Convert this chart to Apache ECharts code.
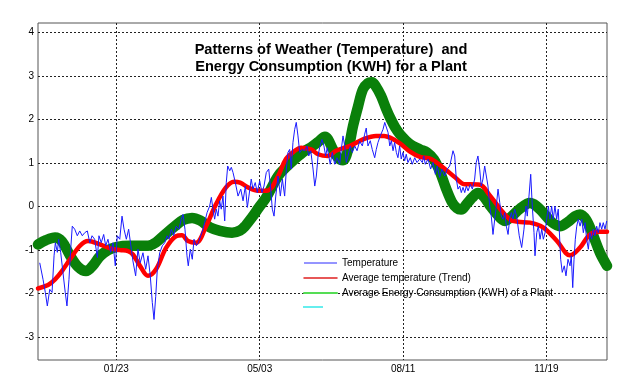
<!DOCTYPE html>
<html>
<head>
<meta charset="utf-8">
<script src="https://cdn.jsdelivr.net/npm/echarts@6/dist/echarts.min.js"></script>
<style>
html,body{margin:0;padding:0;background:#fff;}
#chart{width:625px;height:388px;}
</style>
</head>
<body>
<div id="chart"></div>
<script>
// ---- tick labels ----
var xTickDays = [23, 123, 223, 323];
var xTickLabels = ['01/23', '05/03', '08/11', '11/19'];
var yTicks = [-3, -2, -1, 0, 1, 2, 3, 4];

// ---- series names ----
var seriesNames = ['Temperature', 'Average temperature (Trend)', 'Average Energy Consumption (KWH) of a Plant', ' '];

// ---- Temperature (daily, noisy) [day of year, value] ----
var temperature = [
[-30.4,-1.29],[-28.1,-1.67],[-26.5,-1.97],[-25.1,-2.28],[-23.4,-1.9],[-21.8,-1.97],[-20.4,-1.13],[-19.5,-0.83],[-18.1,-1.05],[-17.2,-0.75],
[-15.8,-1.05],[-14.2,-1.51],[-12.6,-1.97],[-11.4,-2.28],[-10.0,-1.67],[-8.8,-0.98],[-7.7,-0.45],[-6.0,-0.52],[-4.2,-0.67],[-2.5,-0.56],
[-0.7,-0.67],[1.0,-0.6],[2.8,-0.56],[4.5,-0.83],[6.1,-0.67],[7.9,-0.75],[9.8,-1.17],[10.9,-0.67],[12.5,-0.83],[14.2,-0.64],
[15.6,-0.9],[17.2,-0.75],[19.1,-1.05],[20.7,-0.83],[22.3,-1.36],[23.7,-0.67],[25.4,-0.75],[27.0,-0.22],[28.4,-0.52],[30.0,-0.75],
[31.6,-0.52],[33.5,-0.98],[34.6,-1.25],[36.5,-1.59],[38.1,-0.98],[39.7,-1.29],[41.6,-1.06],[43.5,-1.44],[45.1,-1.13],[46.7,-1.59],
[48.1,-2.2],[49.3,-2.59],[50.5,-2.06],[51.6,-1.44],[53.3,-1.06],[55.1,-0.9],[56.8,-0.83],[58.4,-0.67],[59.8,-0.75],[61.4,-0.52],
[63.0,-0.67],[64.8,-0.45],[66.7,-0.52],[68.3,-0.29],[69.5,-0.18],[70.9,-0.52],[72.3,-1.13],[73.2,-1.36],[74.6,-0.98],[76.0,-1.21],
[77.2,-0.75],[78.8,-0.9],[80.2,-0.83],[81.9,-0.67],[83.5,-0.52],[84.6,-0.37],[86.3,-0.14],[88.1,0.01],[89.3,0.21],[90.4,-0.06],
[91.6,-0.29],[92.7,-0.06],[93.9,-0.22],[95.1,0.13],[96.2,-0.06],[97.4,0.24],[98.6,-0.33],[99.7,0.55],[100.7,0.93],[102.1,0.82],
[103.2,0.9],[104.4,0.78],[106.0,0.55],[107.9,0.24],[109.8,0.4],[111.4,0.13],[113.0,0.47],[114.4,-0.02],[115.5,0.24],[117.1,0.63],
[118.3,0.4],[119.9,0.55],[121.3,0.32],[123.0,0.59],[124.6,0.32],[126.0,0.47],[127.6,0.78],[129.3,0.86],[130.7,0.4],[131.8,-0.06],
[133.0,-0.22],[134.2,0.24],[135.8,0.7],[137.4,0.24],[138.8,0.63],[140.4,0.24],[141.6,0.86],[142.7,1.24],[143.9,1.31],[145.0,0.86],
[146.2,1.47],[147.4,1.77],[148.5,1.93],[149.7,1.62],[150.9,1.24],[152.5,1.31],[154.4,1.28],[156.0,1.39],[157.2,1.16],[158.6,1.28],
[160.2,0.86],[161.4,0.47],[162.5,0.7],[163.7,1.16],[164.8,1.35],[166.4,1.54],[167.8,1.39],[169.0,1.16],[170.1,1.35],[172.2,0.97],
[173.6,1.24],[175.3,0.97],[176.9,1.12],[178.8,0.97],[179.9,1.31],[181.1,1.62],[182.3,1.39],[183.4,1.01],[184.6,1.16],[186.2,1.39],
[187.6,1.24],[189.3,1.39],[190.9,1.28],[192.7,1.5],[194.6,1.39],[196.2,1.66],[197.3,1.8],[198.5,1.39],[200.1,1.51],[201.5,1.31],
[203.2,1.12],[204.3,1.31],[205.5,1.47],[207.1,1.62],[209.0,1.77],[210.2,1.93],[211.3,1.96],[212.5,1.7],[213.7,1.39],[214.8,1.51],
[216.0,1.28],[217.1,1.47],[218.3,1.24],[219.4,1.12],[220.6,1.39],[221.7,1.09],[222.9,1.24],[224.1,1.05],[225.2,1.2],[226.4,1.01],
[228.0,1.12],[229.4,0.97],[231.1,1.12],[232.7,1.01],[234.6,1.09],[236.4,1.01],[237.4,1.16],[238.5,0.97],[240.4,1.09],[242.2,0.86],
[243.9,1.01],[245.5,0.74],[246.8,0.93],[248.5,0.67],[250.1,0.86],[252.0,0.7],[253.8,0.86],[255.5,0.93],[256.6,1.09],[257.8,1.28],
[259.0,1.16],[260.1,0.63],[261.3,0.4],[262.5,0.47],[263.6,0.32],[264.8,0.44],[266.0,0.32],[267.1,0.47],[268.3,0.36],[269.9,0.51],
[271.3,0.4],[272.9,0.63],[274.0,1.01],[275.2,1.16],[276.4,0.86],[277.5,0.47],[278.7,0.63],[279.9,0.93],[281.0,0.93],[282.2,0.47],
[283.4,0.01],[284.5,-0.22],[285.7,-0.64],[286.9,-0.29],[288.0,0.01],[289.2,0.4],[290.4,0.09],[291.5,-0.22],[292.7,-0.29],[293.9,-0.14],
[295.0,-0.45],[296.2,-0.64],[297.3,-0.29],[298.5,-0.14],[299.6,-0.29],[300.8,-0.06],[302.2,-0.22],[304.0,-0.67],[305.7,-0.94],[307.3,-0.52],
[308.7,0.01],[309.6,-0.22],[310.8,0.24],[312.0,0.74],[313.1,0.01],[314.3,-0.6],[315.0,-1.13],[316.2,-0.6],[317.3,-0.45],[318.5,-0.75],
[319.7,-0.52],[320.8,-0.75],[322.0,-0.6],[323.1,-0.29],[324.3,0.01],[325.4,-0.29],[326.6,0.01],[327.7,-0.29],[328.9,0.01],[330.1,-0.29],
[331.2,-0.06],[331.9,-0.52],[332.9,-1.21],[334.0,-1.51],[335.4,-1.36],[336.6,-1.59],[338.0,-1.21],[339.4,-1.36],[340.3,-1.13],[341.3,-1.86],
[342.2,-1.21],[343.1,-0.75],[344.1,-0.45],[345.2,-0.29],[346.4,-0.45],[347.6,-0.29],[348.7,-0.6],[349.9,-0.37],[351.0,-0.75],[352.2,-0.98],
[353.3,-0.6],[354.5,-0.75],[355.6,-0.52],[356.8,-0.67],[358.0,-0.45],[359.1,-0.6],[360.3,-0.37],[361.5,-0.52],[362.6,-0.37],[363.8,-0.52],
[365.0,-0.33]
];

// ---- Average temperature (trend) [day, value] ----
var trend = [
[-31.6,-1.88],[-24.6,-1.8],[-19.7,-1.67],[-14.9,-1.48],[-9.3,-1.21],[-2.3,-0.9],[3.3,-0.79],[11.6,-0.87],[18.6,-0.96],[25.6,-1.0],
[31.2,-1.02],[34.6,-1.1],[39.5,-1.36],[45.1,-1.59],[50.7,-1.44],[57.7,-0.95],[64.6,-0.68],[68.8,-0.66],[73.0,-0.79],[78.6,-0.83],
[85.6,-0.45],[92.5,0.05],[99.5,0.44],[105.1,0.57],[109.3,0.55],[114.8,0.44],[121.8,0.36],[128.8,0.37],[135.8,0.7],[141.3,1.09],
[147.6,1.28],[151.8,1.35],[158.8,1.31],[163.7,1.2],[170.6,1.16],[176.2,1.28],[186.0,1.39],[195.0,1.54],[204.1,1.62],[209.7,1.62],
[213.9,1.58],[220.8,1.45],[227.8,1.26],[234.8,1.14],[242.5,1.09],[252.2,0.86],[259.2,0.67],[266.2,0.51],[269.7,0.51],[276.6,0.5],
[283.6,0.25],[290.6,-0.05],[297.6,-0.3],[303.1,-0.35],[311.5,-0.37],[320.6,-0.48],[330.3,-0.79],[339.4,-1.12],[346.4,-0.94],[353.3,-0.64],
[360.3,-0.58],[365.2,-0.58]
];

// ---- Average energy consumption [day, value] ----
var energy = [
[-31.6,-0.87],[-26.0,-0.77],[-19.7,-0.71],[-14.9,-0.8],[-9.3,-1.12],[-3.7,-1.38],[1.9,-1.48],[6.8,-1.35],[11.6,-1.14],[17.2,-1.0],
[22.8,-0.93],[32.6,-0.9],[45.1,-0.9],[50.7,-0.82],[57.0,-0.64],[63.9,-0.45],[69.5,-0.31],[75.8,-0.26],[81.4,-0.32],[88.3,-0.48],
[95.3,-0.56],[103.7,-0.6],[109.3,-0.55],[112.8,-0.45],[117.6,-0.25],[122.5,-0.02],[127.4,0.2],[135.8,0.7],[141.3,0.9],[147.6,1.09],
[154.6,1.28],[158.8,1.36],[163.7,1.48],[168.5,1.6],[174.1,1.31],[177.6,1.12],[181.1,1.06],[184.6,1.3],[188.1,1.85],[191.6,2.3],
[195.0,2.69],[198.5,2.83],[201.3,2.85],[204.1,2.75],[207.6,2.54],[211.1,2.25],[213.9,2.04],[217.4,1.82],[220.8,1.66],[227.8,1.43],
[234.8,1.31],[239.7,1.24],[244.5,1.08],[248.7,0.8],[252.9,0.42],[257.1,0.1],[260.6,-0.04],[263.4,-0.07],[267.6,0.07],[271.1,0.2],
[275.2,0.31],[279.4,0.22],[283.6,0.02],[287.1,-0.12],[294.1,-0.33],[298.2,-0.24],[304.5,-0.05],[311.5,0.08],[315.7,0.02],[320.6,-0.14],
[326.8,-0.36],[332.4,-0.45],[338.0,-0.35],[342.9,-0.22],[346.4,-0.18],[350.6,-0.3],[355.4,-0.65],[360.3,-1.06],[365.2,-1.36]
];

var FONT = '"Liberation Sans", Arial, Helvetica, sans-serif';
var chart = echarts.init(document.getElementById('chart'), null, {renderer: 'canvas'});
var HIDE = {color: 'rgba(0,0,0,0)', borderWidth: 0, borderColor: 'rgba(0,0,0,0)'};

chart.setOption({
  animation: false,
  backgroundColor: '#ffffff',
  title: {
    text: 'Patterns of Weather (Temperature)  and\nEnergy Consumption (KWH) for a Plant',
    left: 331,
    top: 41.5,
    padding: 0,
    textAlign: 'center',
    textStyle: {
      fontFamily: FONT, fontSize: 14.6, fontWeight: 'bold', color: '#000', lineHeight: 17
    }
  },
  legend: [{
    orient: 'vertical',
    left: 303,
    top: 258,
    padding: 0,
    itemGap: 5,
    itemWidth: 33,
    itemHeight: 12,
    selectedMode: false,
    textStyle: {fontFamily: FONT, fontSize: 10, color: '#000'},
    data: [
      {name: seriesNames[0], itemStyle: HIDE, lineStyle: {width: 1, color: '#2a2aff'}},
      {name: seriesNames[1], itemStyle: HIDE, lineStyle: {width: 1.5, color: '#e02020'}},
      {name: seriesNames[2], itemStyle: HIDE, lineStyle: {width: 2, color: '#55dd55'}}
    ]
  }, {
    orient: 'vertical',
    left: 302,
    top: 302,
    padding: 0,
    itemWidth: 20,
    itemHeight: 12,
    selectedMode: false,
    textStyle: {fontFamily: FONT, fontSize: 10, color: '#000'},
    data: [{name: seriesNames[3], itemStyle: HIDE, lineStyle: {width: 2, color: '#66eeee'}}]
  }],
  grid: {
    left: 38, right: 18, top: 23, bottom: 28,
    show: true, borderColor: '#555', borderWidth: 1, backgroundColor: 'transparent'
  },
  xAxis: {
    type: 'value',
    min: -31.6,
    max: 365.2,
    axisLine: {show: false},
    axisTick: {show: false, customValues: xTickDays},
    axisLabel: {
      customValues: xTickDays,
      margin: 4,
      fontFamily: FONT, fontSize: 10, color: '#000',
      formatter: function (v) {
        var i = xTickDays.indexOf(v);
        return i >= 0 ? xTickLabels[i] : '';
      }
    },
    splitLine: {show: true, lineStyle: {color: '#222', width: 1, type: [2, 2]}}
  },
  yAxis: {
    type: 'value',
    min: -3.52,
    max: 4.21,
    axisLine: {show: false},
    axisTick: {show: false, customValues: yTicks},
    axisLabel: {
      customValues: yTicks,
      margin: 4,
      fontFamily: FONT, fontSize: 10, color: '#000'
    },
    splitLine: {show: true, lineStyle: {color: '#222', width: 1, type: [2, 2]}}
  },
  series: [
    {
      name: seriesNames[2], type: 'line', data: energy, symbol: 'none', smooth: 0.35,
      lineStyle: {color: '#0a800a', width: 10.5, cap: 'round', join: 'round'},
      itemStyle: {color: '#0a800a'}, z: 2
    },
    {
      name: seriesNames[1], type: 'line', data: trend, symbol: 'none', smooth: 0.35,
      lineStyle: {color: '#ff0000', width: 4.5, cap: 'round', join: 'round'},
      itemStyle: {color: '#ff0000'}, z: 3
    },
    {
      name: seriesNames[0], type: 'line', data: temperature, symbol: 'none', smooth: false,
      lineStyle: {color: '#1a1aff', width: 1},
      itemStyle: {color: '#1a1aff'}, z: 4
    },
    {
      name: seriesNames[3], type: 'line', data: [], symbol: 'none',
      lineStyle: {color: '#66eeee', width: 2}, itemStyle: {color: '#66eeee'}
    }
  ]
});
</script>
</body>
</html>
